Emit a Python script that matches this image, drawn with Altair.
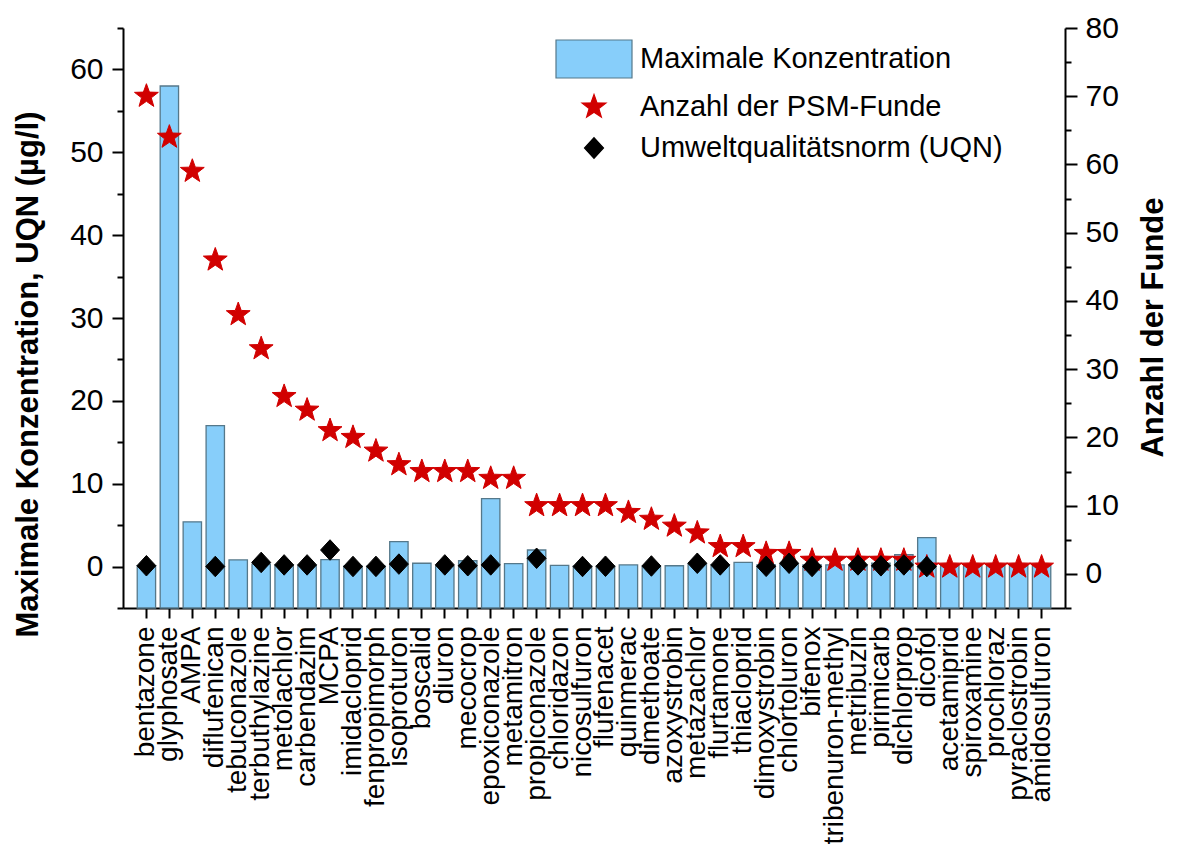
import math
import altair as alt
import pandas as pd

categories = [
    "bentazone", "glyphosate", "AMPA", "diflufenican", "tebuconazole", "terbuthylazine",
    "metolachlor", "carbendazim", "MCPA", "imidacloprid", "fenpropimorph", "isoproturon",
    "boscalid", "diuron", "mecocrop", "epoxiconazole", "metamitron", "propiconazole",
    "chloridazon", "nicosulfuron", "flufenacet", "quinmerac", "dimethoate", "azoxystrobin",
    "metazachlor", "flurtamone", "thiacloprid", "dimoxystrobin", "chlortoluron", "bifenox",
    "tribenuron-methyl", "metribuzin", "pirimicarb", "dichlorprop", "dicofol", "acetamiprid",
    "spiroxamine", "prochloraz", "pyraclostrobin", "amidosulfuron",
]
max_konz = [
    0.1, 58.0, 5.4, 17.0, 0.8, 0.3, 0.2, 0.15, 0.85, 0.05, 0.05, 3.0,
    0.4, 0.05, 0.7, 8.2, 0.35, 2.0, 0.15, 0.05, 0.05, 0.2, 0.05, 0.1,
    0.3, 0.2, 0.5, 0.2, 0.3, 0.2, 0.2, 0.2, 0.4, 1.45, 3.5, 0.2,
    0.2, 0.2, 0.2, 0.2,
]
anzahl_funde = [
    70, 64, 59, 46, 38, 33, 26, 24, 21, 20, 18, 16,
    15, 15, 15, 14, 14, 10, 10, 10, 10, 9, 8, 7,
    6, 4, 4, 3, 3, 2, 2, 2, 2, 2, 1, 1,
    1, 1, 1, 1,
]
uqn = [
    0.1, None, None, 0.01, None, 0.5, 0.2, 0.2, 2.0, 0.01, 0.02, 0.3,
    None, 0.2, 0.1, 0.2, None, 1.0, None, 0.01, 0.04, None, 0.07, None,
    0.4, 0.2, None, 0.03, 0.4, 0.01, None, 0.2, 0.09, 0.2, 0.001, None,
    None, None, None, None,
]

series_names = ["Maximale Konzentration", "Anzahl der PSM-Funde", "Umweltqualitätsnorm (UQN)"]

FONT = "Liberation Sans"
BAR_FILL = "#87CEFA"
BAR_STROKE = "#55788a"
STAR_RED = "#D10000"


def star_path(outer=0.66, inner=0.27):
    pts = []
    for k in range(10):
        ang = math.radians(-90 + 36 * k)
        rad = outer if k % 2 == 0 else inner
        pts.append(f"{rad * math.cos(ang):.4f},{rad * math.sin(ang):.4f}")
    return "M" + "L".join(pts) + "Z"


RECT_PATH = "M-2,-1L2,-1L2,1L-2,1Z"
DIAMOND_PATH = "M0,-0.54L0.5,0L0,0.54L-0.5,0Z"
SYM = 1444

df = pd.DataFrame({"cat": categories, "konz": max_konz, "funde": anzahl_funde, "uqn": uqn})

fill_scale = alt.Scale(domain=series_names, range=[BAR_FILL, STAR_RED, "#000000"])
stroke_scale = alt.Scale(domain=series_names, range=[BAR_STROKE, STAR_RED, "#000000"])
shape_scale = alt.Scale(domain=series_names, range=[RECT_PATH, star_path(), DIAMOND_PATH])

legend = alt.Legend(
    title=None, orient="none", legendX=451, legendY=11, padding=0,
    symbolSize=SYM, symbolStrokeWidth=1.2, labelFontSize=29, labelFont=FONT,
    labelColor="black", labelOffset=26, rowPadding=6, labelLimit=600,
)

x_enc = alt.X(
    "cat:N", sort=categories,
    scale=alt.Scale(paddingInner=0.2, paddingOuter=0.62),
    axis=alt.Axis(
        title=None, labelAngle=270, labelFontSize=28, labelFont=FONT, labelColor="black",
        labelPadding=8, labelLimit=400, tickSize=10, tickWidth=2, tickColor="black",
        domainColor="black", domainWidth=2,
    ),
)

major_test = "datum.value % 10 === 0"

left_axis = alt.Axis(
    title="Maximale Konzentration, UQN (µg/l)", values=list(range(-5, 66, 5)),
    labelExpr=f"{major_test} ? datum.label : ''",
    tickSize={"condition": {"test": major_test, "value": 11}, "value": 6},
    tickWidth=2, tickColor="black", domainColor="black", domainWidth=2, grid=False,
    labelFontSize=30, labelFont=FONT, labelColor="black", labelPadding=9,
    titleFontSize=31, titleFont=FONT, titleFontWeight="bold", titleColor="black",
    titleAngle=270, titleAlign="center", titleBaseline="alphabetic", titleX=-86, titleY=346,
)
right_axis = alt.Axis(
    title="Anzahl der Funde", orient="right", values=list(range(-5, 81, 5)),
    labelExpr=f"{major_test} ? datum.label : ''",
    tickSize={"condition": {"test": major_test, "value": 12}, "value": 6},
    tickWidth=2, tickColor="black", domainColor="black", domainWidth=2, grid=False,
    labelFontSize=30, labelFont=FONT, labelColor="black", labelPadding=8,
    titleFontSize=31, titleFont=FONT, titleFontWeight="bold", titleColor="black",
    titleAngle=270, titleAlign="center", titleBaseline="alphabetic", titleX=97, titleY=299,
)

left_scale = alt.Scale(domain=[-5, 65], nice=False, zero=False)
right_scale = alt.Scale(domain=[-5, 80], nice=False, zero=False)

bars = alt.Chart(df).transform_calculate(series="'Maximale Konzentration'").mark_bar(
    strokeWidth=1.3
).encode(
    x=x_enc,
    y=alt.Y("konz:Q", scale=left_scale, axis=left_axis),
    y2=alt.datum(-5),
    fill=alt.Fill("series:N", scale=fill_scale, legend=legend),
    stroke=alt.Stroke("series:N", scale=stroke_scale, legend=legend),
)

stars = alt.Chart(df).transform_calculate(series="'Anzahl der PSM-Funde'").mark_point(
    filled=True, size=SYM, opacity=1, strokeWidth=1
).encode(
    x=x_enc,
    y=alt.Y("funde:Q", scale=right_scale, axis=right_axis),
    fill=alt.Fill("series:N", scale=fill_scale, legend=legend),
    stroke=alt.Stroke("series:N", scale=stroke_scale, legend=legend),
    shape=alt.Shape("series:N", scale=shape_scale, legend=legend),
)

diamonds = alt.Chart(df).transform_filter("isValid(datum.uqn)").transform_calculate(
    series="'Umweltqualitätsnorm (UQN)'"
).mark_point(filled=True, size=SYM, opacity=1, strokeWidth=1).encode(
    x=x_enc,
    y=alt.Y("uqn:Q", scale=left_scale, axis=None),
    fill=alt.Fill("series:N", scale=fill_scale, legend=legend),
    stroke=alt.Stroke("series:N", scale=stroke_scale, legend=legend),
    shape=alt.Shape("series:N", scale=shape_scale, legend=legend),
)

chart = alt.layer(bars, stars, diamonds).resolve_scale(y="independent").properties(
    width=942, height=580,
    padding={"left": 115, "top": 20, "right": 105, "bottom": 241},
    autosize=alt.AutoSizeParams(type="none"),
    background="white",
).configure_view(stroke=None)

chart.save("out.html", embed_options={"renderer": "svg", "actions": False})
